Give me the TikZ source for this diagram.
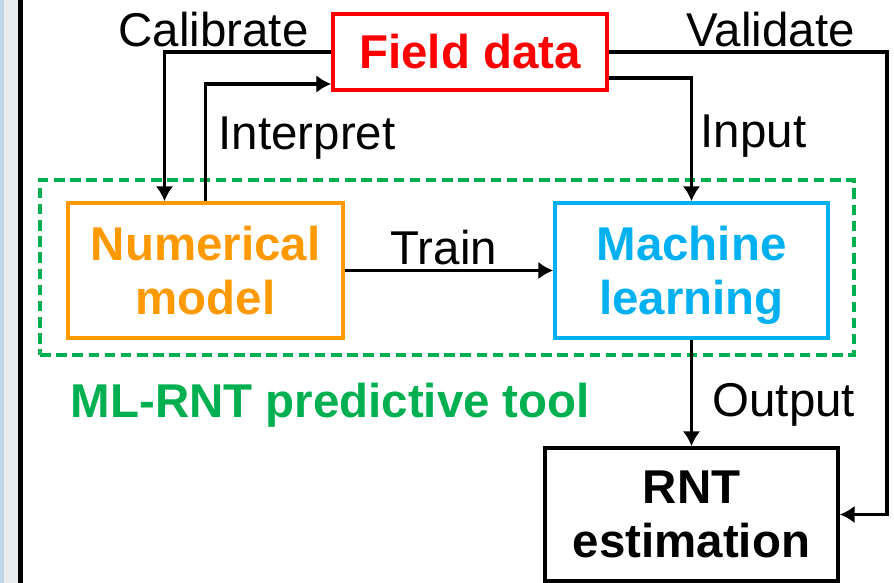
\documentclass[tikz,border=0pt]{standalone}
\usepackage{fontspec}
\setmainfont{Liberation Sans}
\usetikzlibrary{arrows.meta}

\definecolor{fieldred}{RGB}{255,0,0}
\definecolor{numorange}{RGB}{255,153,0}
\definecolor{mlblue}{RGB}{0,176,240}
\definecolor{toolgreen}{RGB}{0,176,80}
\definecolor{sidegray}{RGB}{234,236,238}
\definecolor{sideblue}{RGB}{190,215,235}

\tikzset{
  box/.style={draw, line width=1.05pt, inner sep=0pt, align=center,
    font=\fontsize{13.5}{15.4}\selectfont\bfseries},
  lbl/.style={inner sep=0pt, anchor=base west, font=\fontsize{13.5}{15}\selectfont},
  conn/.style={line width=1.05pt, -{Latex[length=4.2pt,width=5pt]}}
}

\begin{document}
\begin{tikzpicture}
\useasboundingbox (0,0) rectangle (8.94,5.83);
% slide edge
\fill [sidegray] (0,0) rectangle (0.18,5.83);
\draw [sideblue, line width=1pt] (0.02,0) -- (0.02,5.83);
\draw [line width=1.7pt] (0.205,0) -- (0.205,5.83);

% boxes
\node [draw=toolgreen, line width=1.2pt, dash pattern=on 3pt off 1.6pt,
  minimum width=8.14cm, minimum height=1.75cm] (tool) at (4.47,3.155) {};
\node [box, fieldred, minimum width=2.74cm, minimum height=0.76cm] (field) at (4.70,5.31) {Field data};
\node [box, numorange, minimum width=2.75cm, minimum height=1.35cm] (nummod) at (2.055,3.125) {Numerical\\model};
\node [box, mlblue, minimum width=2.73cm, minimum height=1.35cm, text depth=0pt] (ml) at (6.915,3.125) {Machine\\learning};
\node [box, black, minimum width=2.93cm, minimum height=1.33cm] (rnt) at (6.915,0.685) {RNT\\estimation};

% connectors
\draw [conn] (field.west) -| ([xshift=-4.1mm]nummod.north);
\draw [conn] (nummod.north) |- ([yshift=-3.2mm]field.west);
\draw [conn] (field.east) -| ([xshift=4.7mm]rnt.east) -- (rnt.east);
\draw [conn] ([yshift=-2.6mm]field.east) -| (ml.north);
\draw [conn] (nummod) -- (ml);
\draw [conn] (ml) -- (rnt);

% labels
\node [lbl] (calib) at (1.18,5.36) {Calibrate};
\node [lbl] (valid) at (6.86,5.36) {Validate};
\node [lbl] (interp) at (2.18,4.33) {Interpret};
\node [lbl] (input) at (7.00,4.35) {Input};
\node [lbl] (train) at (3.90,3.18) {Train};
\node [lbl] (output) at (7.12,1.66) {Output};
\node [lbl, toolgreen, font=\fontsize{13.5}{15}\selectfont\bfseries] (toolname) at (0.70,1.65) {ML-RNT predictive tool};
\end{tikzpicture}
\end{document}
